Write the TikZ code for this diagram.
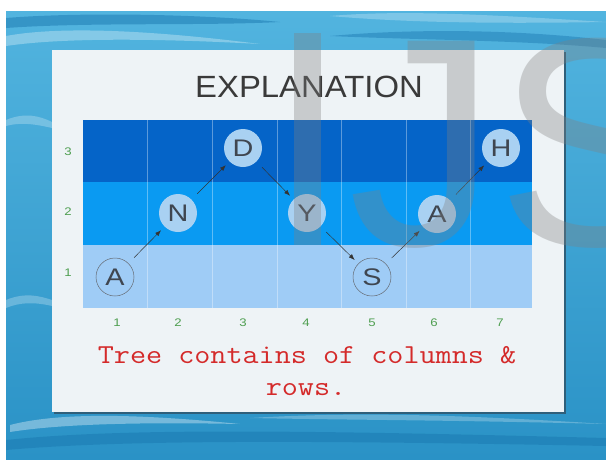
\documentclass[tikz,border=0pt]{standalone}
\usepackage{fontspec}
\setmainfont{Liberation Sans}
\usetikzlibrary{arrows.meta}
\definecolor{waterA}{HTML}{52B4DF}
\definecolor{waterB}{HTML}{2A92C6}
\definecolor{waterdeep}{HTML}{1A78B0}
\definecolor{panelc}{HTML}{EEF3F6}
\definecolor{shadowc}{HTML}{2F5F7A}
\definecolor{rowdark}{HTML}{0564C8}
\definecolor{rowmid}{HTML}{0A9AF2}
\definecolor{rowlight}{HTML}{9FCCF6}
\definecolor{bubblec}{HTML}{A9D1F2}
\definecolor{labelgreen}{HTML}{4E9E50}
\definecolor{redtext}{HTML}{D42A2A}
\definecolor{titlec}{HTML}{3A3A3A}
\definecolor{letterc}{HTML}{3F4650}
\newcommand\stretchx[1]{\scalebox{1.2}[1]{#1}}
\begin{document}
\begin{tikzpicture}[x=1pt,y=-1pt,
  bubble/.style={circle,minimum size=38pt,inner sep=0pt,fill=bubblec,text=letterc,font=\fontsize{24pt}{26pt}\selectfont},
  lowbubble/.style={bubble,fill=rowlight,draw=letterc!80,line width=0.5pt},
  link/.style={draw=black!80,line width=0.5pt,-{Latex[length=6pt,width=4.5pt]},shorten <=8pt,shorten >=5pt},
  colline/.style={draw=white,opacity=0.35,line width=0.8pt},
  lbl/.style={text=labelgreen,font=\fontsize{11pt}{12pt}\selectfont,inner sep=0pt},
  redtxt/.style={text=redtext,font=\ttfamily\fontsize{27.4pt}{30pt}\selectfont,inner sep=0pt,anchor=base},
  wmfill/.style={fill=black!50,opacity=0.34},
  wm/.style={text=black!50,text opacity=0.34,inner sep=0pt,font=\fontsize{297pt}{300pt}\selectfont}]
\useasboundingbox (0,0) rectangle (606,459);
\fill[white] (0,0) rectangle (606,459);
% water background
\shade[top color=waterA,bottom color=waterB] (6,11) rectangle (606,459);
\fill[waterdeep,opacity=0.5] (6,18) .. controls (80,12) and (200,14) .. (280,22) .. controls (200,26) and (90,22) .. (6,28) -- cycle;
\fill[white,opacity=0.3] (6,36) .. controls (60,26) and (150,30) .. (260,44) .. controls (150,38) and (60,38) .. (6,46) -- cycle;
\fill[white,opacity=0.25] (330,16) .. controls (400,10) and (480,14) .. (606,22) .. controls (480,24) and (400,22) .. (330,16) -- cycle;
\fill[waterdeep,opacity=0.45] (330,36) .. controls (420,28) and (520,30) .. (606,40) -- (606,48) .. controls (520,40) and (420,40) .. (330,36) -- cycle;
\fill[white,opacity=0.25] (6,120) .. controls (25,112) and (40,116) .. (52,122) -- (52,128) .. controls (35,124) and (20,122) .. (6,126) -- cycle;
\fill[white,opacity=0.25] (6,300) .. controls (25,292) and (40,296) .. (52,300) -- (52,306) .. controls (35,302) and (20,302) .. (6,308) -- cycle;
\fill[white,opacity=0.35] (10,425) .. controls (60,412) and (140,414) .. (240,424) .. controls (140,422) and (60,424) .. (10,432) -- cycle;
\fill[waterdeep,opacity=0.5] (6,440) .. controls (120,428) and (300,430) .. (606,438) -- (606,446) .. controls (300,440) and (120,440) .. (6,450) -- cycle;
\fill[white,opacity=0.25] (250,418) .. controls (350,412) and (450,414) .. (606,424) .. controls (450,420) and (350,420) .. (250,418) -- cycle;
% panel
\fill[shadowc] (54,52) rectangle (566,414);
\fill[panelc] (52,50) rectangle (564,412);
% title
\node[text=titlec,font=\fontsize{30.7pt}{32pt}\selectfont,inner sep=0pt,anchor=base] (title) at (309,97) {\scalebox{1.07}[1]{EXPLANATION}};
% grid
\fill[rowdark] (83,120) rectangle (532,182);
\fill[rowmid] (83,182) rectangle (532,245);
\fill[rowlight] (83,245) rectangle (532,308);
\foreach \x in {147,212,277,341,406,470} \draw[colline] (\x,120) -- (\x,308);
% row labels
\node[lbl] (r3) at (68,152) {\stretchx{3}};
\node[lbl] (r2) at (68,212) {\stretchx{2}};
\node[lbl] (r1) at (68,273) {\stretchx{1}};
% column labels
\node[lbl] (c1) at (117,323) {\stretchx{1}};
\node[lbl] (c2) at (178,323) {\stretchx{2}};
\node[lbl] (c3) at (243,323) {\stretchx{3}};
\node[lbl] (c4) at (306,323) {\stretchx{4}};
\node[lbl] (c5) at (372,323) {\stretchx{5}};
\node[lbl] (c6) at (434,323) {\stretchx{6}};
\node[lbl] (c7) at (500,323) {\stretchx{7}};
% tree nodes
\node[lowbubble] (n1) at (115,277) {\stretchx{A}};
\node[bubble] (n2) at (178,213) {\stretchx{N}};
\node[bubble] (n3) at (243,148) {\stretchx{D}};
\node[bubble] (n4) at (307,213) {\stretchx{Y}};
\node[lowbubble] (n5) at (372,277) {\stretchx{S}};
\node[bubble] (n6) at (437,214) {\stretchx{A}};
\node[bubble] (n7) at (501,148) {\stretchx{H}};
\draw[link] (n1) -- (n2);
\draw[link] (n2) -- (n3);
\draw[link] (n3) -- (n4);
\draw[link] (n4) -- (n5);
\draw[link] (n5) -- (n6);
\draw[link] (n6) -- (n7);
% watermark
\begin{scope}
\clip (0,0) rectangle (606,459);
\fill[wmfill] (294,33) rectangle (321,245);
\node[wm,anchor=base west] (wmj) at (348,245) {J};
\node[wm,anchor=base west] (wms) at (496,245) {S};
\end{scope}
% caption
\node[redtxt] (t1) at (307,363) {\scalebox{1.14}[1]{Tree contains of columns \&}};
\node[redtxt] (t2) at (306,395) {\scalebox{1.14}[1]{rows.}};
\end{tikzpicture}
\end{document}
